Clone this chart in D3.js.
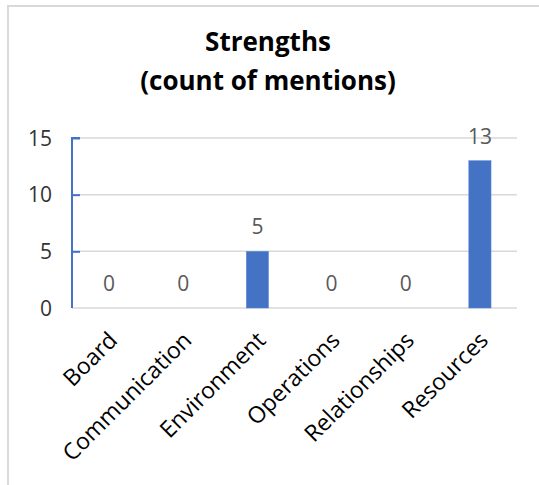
<!DOCTYPE html>
<html><head><meta charset="utf-8">
<script src="https://cdn.jsdelivr.net/npm/d3@7"></script>
<style>body{margin:0;background:#fff}svg{display:block}</style>
</head><body>
<svg id="c" width="539" height="485"></svg>
<script>
const categories = ["Board","Communication","Environment","Operations","Relationships","Resources"];
const values = [0,0,5,0,0,13];
const yTicks = [0,5,10,15];
const titleLines = ["Strengths","(count of mentions)"];

const svg = d3.select("#c");
const W = 539, H = 485;
svg.append("rect").attr("width",W).attr("height",H).attr("fill","#fff");
// frame
svg.append("line").attr("x1",7).attr("x2",W).attr("y1",6).attr("y2",6).attr("stroke","#d9d9d9").attr("stroke-width",2);
svg.append("line").attr("x1",8).attr("x2",8).attr("y1",5).attr("y2",H).attr("stroke","#d9d9d9").attr("stroke-width",2);

const m = {left:72, right:517, top:138, bottom:308};
const x = d3.scaleBand().domain(categories).range([m.left,m.right]).paddingInner(0.7).paddingOuter(0.35);
const y = d3.scaleLinear().domain([0,15]).range([m.bottom,m.top]);

// title
const t = svg.append("text").attr("text-anchor","middle").attr("font-family","Open Sans")
  .attr("font-weight","bold").attr("font-size",26).attr("fill","#000");
titleLines.forEach((s,i)=>t.append("tspan").attr("x",268).attr("y",51+i*39).text(s));

// gridlines
svg.append("g").selectAll("line").data(yTicks).join("line")
  .attr("x1",m.left).attr("x2",m.right).attr("y1",d=>y(d)).attr("y2",d=>y(d))
  .attr("stroke","#d9d9d9").attr("stroke-width",1.5);

// y axis
const ya = svg.append("g").attr("transform",`translate(${m.left},0)`)
  .call(d3.axisRight(y).tickValues(yTicks).tickSize(8).tickFormat(""));
ya.select(".domain").attr("stroke","#4472C4").attr("stroke-width",2).attr("d",`M8,${m.top}H0V${m.bottom}`);
ya.selectAll(".tick line").attr("stroke","#4472C4").attr("stroke-width",2);
ya.selectAll(".tick").filter(d=>d===0).select("line").remove();
svg.append("g").selectAll("text").data(yTicks).join("text")
  .attr("x",52).attr("y",d=>y(d)).attr("dy","0.36em").attr("text-anchor","end")
  .attr("font-family","Open Sans").attr("font-size",21).attr("fill","#333").text(d=>d);

// bars
svg.append("g").selectAll("rect").data(values).join("rect")
  .attr("x",(d,i)=>x(categories[i])).attr("width",x.bandwidth())
  .attr("y",d=>y(d)).attr("height",d=>y(0)-y(d))
  .attr("fill","#4472C4").attr("stroke","#5b8ad6").attr("stroke-width",0.5);

// data labels
svg.append("g").selectAll("text").data(values).join("text")
  .attr("x",(d,i)=>x(categories[i])+x.bandwidth()/2)
  .attr("y",d=>y(d)-17).attr("text-anchor","middle")
  .attr("font-family","Open Sans").attr("font-size",21).attr("fill","#595959").text(d=>d);

// x labels
svg.append("g").selectAll("text").data(categories).join("text")
  .attr("transform",d=>`translate(${x(d)+x.bandwidth()/2+4},${m.bottom+28}) rotate(-45)`)
  .attr("text-anchor","end").attr("dy","0.35em")
  .attr("font-family","Open Sans").attr("font-size",23).attr("fill","#000").text(d=>d);
</script>
</body></html>
